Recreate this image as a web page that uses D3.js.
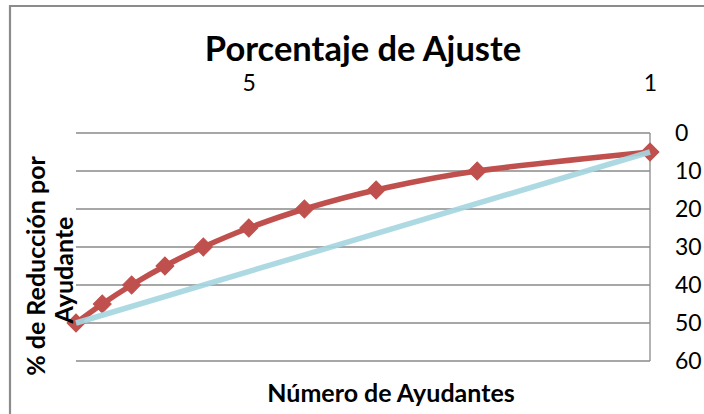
<!DOCTYPE html>
<html>
<head>
<meta charset="utf-8">
<script src="https://cdn.jsdelivr.net/npm/d3@7"></script>
<style>
  html, body { margin: 0; padding: 0; background: #fff; }
  svg { display: block; }
  text { font-family: Lato, "Open Sans", sans-serif; fill: #000; }
</style>
</head>
<body>
<svg id="chart" width="704" height="414"></svg>
<script>
// ---- data ----
const helpers = [10, 9, 8, 7, 6, 5, 4, 3, 2, 1];
const reduction = [50, 45, 40, 35, 30, 25, 20, 15, 10, 5];
const lineHelpers = [10, 1];
const lineReduction = [50, 5];
const xTickValues = [5, 1];
const yTickValues = [0, 10, 20, 30, 40, 50, 60];
const chartTitle = "Porcentaje de Ajuste";
const xTitle = "Número de Ayudantes";
const yTitleLines = ["% de Reducción por", "Ayudante"];

(function () {
const svg = d3.select("#chart");
const W = 704, H = 414;
const pLeft = 76, pRight = 650, pTop = 133, pBottom = 361;

// outer frame (only top and left visible)
svg.append("path")
  .attr("d", `M10,${H + 5} L10,6 L${W + 5},6`)
  .attr("fill", "none").attr("stroke", "#8c8c8c").attr("stroke-width", 2.2);

const x = d3.scaleLog().domain([10, 1]).range([pLeft, pRight]);
const y = d3.scaleLinear().domain([0, 60]).range([pTop, pBottom]);

// gridlines
svg.append("g").selectAll("line").data(yTickValues).join("line")
  .attr("x1", pLeft).attr("x2", pRight)
  .attr("y1", d => y(d)).attr("y2", d => y(d))
  .attr("stroke", "#8a8a8a").attr("stroke-width", 1.3);

// right axis line
svg.append("line")
  .attr("x1", pRight).attr("x2", pRight).attr("y1", y(0)).attr("y2", y(60))
  .attr("stroke", "#8a8a8a").attr("stroke-width", 1.3);

// right axis labels
const yAxis = svg.append("g").attr("transform", `translate(${pRight},0)`)
  .call(d3.axisRight(y).tickValues(yTickValues).tickSize(0).tickPadding(25).tickFormat(d3.format("d")));
yAxis.select(".domain").remove();
yAxis.selectAll("text").style("font-size", "23px").attr("fill", "#000")
  .style("font-family", "Lato, 'Open Sans', sans-serif");

// top axis labels
const xAxis = svg.append("g").attr("transform", `translate(0,94)`)
  .call(d3.axisTop(x).tickValues(xTickValues).tickSize(0).tickPadding(3).tickFormat(d3.format("d")));
xAxis.select(".domain").remove();
xAxis.selectAll("text").style("font-size", "23px").attr("fill", "#000")
  .style("font-family", "Lato, 'Open Sans', sans-serif");

// red smooth series
const redData = helpers.map((h, i) => [h, reduction[i]]);
svg.append("path")
  .attr("d", d3.line().x(d => x(d[0])).y(d => y(d[1])).curve(d3.curveCardinal)(redData))
  .attr("fill", "none").attr("stroke", "#C0504D").attr("stroke-width", 5.5)
  .attr("stroke-linejoin", "round");
svg.append("g").selectAll("path").data(redData).join("path")
  .attr("d", d3.symbol(d3.symbolSquare, 160)())
  .attr("transform", d => `translate(${x(d[0])},${y(d[1])}) rotate(45)`)
  .attr("fill", "#C0504D").attr("stroke", "#C0504D").attr("stroke-width", 1);

// blue straight series
const blueData = lineHelpers.map((h, i) => [h, lineReduction[i]]);
svg.append("path")
  .attr("d", d3.line().x(d => x(d[0])).y(d => y(d[1]))(blueData))
  .attr("fill", "none").attr("stroke", "#A6D6E1").attr("stroke-width", 5.5)
  .attr("stroke-opacity", 0.92);

// titles
svg.append("text").text(chartTitle)
  .attr("x", 363).attr("y", 61).attr("text-anchor", "middle")
  .style("font-size", "34.5px").style("font-weight", "bold");

svg.append("text").text(xTitle)
  .attr("x", 391).attr("y", 402).attr("text-anchor", "middle")
  .style("font-size", "25px").style("font-weight", "bold");

svg.append("text").text(yTitleLines[0])
  .attr("transform", "translate(45,266) rotate(-90)").attr("text-anchor", "middle")
  .style("font-size", "25px").style("font-weight", "bold");
svg.append("text").text(yTitleLines[1])
  .attr("transform", "translate(73,270) rotate(-90)").attr("text-anchor", "middle")
  .style("font-size", "25px").style("font-weight", "bold");
})();
</script>
</body>
</html>
